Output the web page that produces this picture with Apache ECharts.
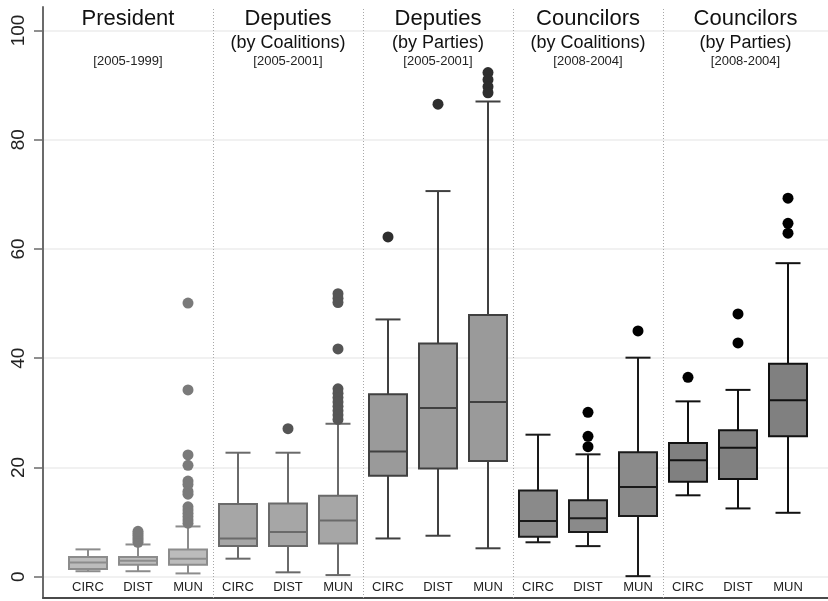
<!DOCTYPE html>
<html>
<head>
<meta charset="utf-8">
<script src="https://cdn.jsdelivr.net/npm/echarts@6/dist/echarts.min.js"></script>
<style>
  html, body { margin: 0; padding: 0; background: #ffffff; }
  #chart { width: 828px; height: 601px; }
</style>
</head>
<body>
<div id="chart"></div>
<script>
// Electoral-unit levels shown within each panel
const levels = ['CIRC', 'DIST', 'MUN'];

// Panel headings
const groupTitles = ['President', 'Deputies', 'Deputies', 'Councilors', 'Councilors'];
const groupSubtitles = ['', '(by Coalitions)', '(by Parties)', '(by Coalitions)', '(by Parties)'];
const groupPeriods = ['[2005-1999]', '[2005-2001]', '[2005-2001]', '[2008-2004]', '[2008-2004]'];

// Box statistics: [lower whisker, Q1, median, Q3, upper whisker]
const presidentStats = [
  [1.0, 1.4, 2.6, 3.6, 5.0],
  [1.0, 2.2, 2.9, 3.6, 5.9],
  [0.6, 2.2, 3.3, 5.0, 9.2]
];
const deputiesCoalStats = [
  [3.3, 5.6, 7.0, 13.3, 22.7],
  [0.8, 5.6, 8.2, 13.4, 22.7],
  [0.3, 6.1, 10.3, 14.8, 28.0]
];
const deputiesPartyStats = [
  [7.0, 18.5, 22.9, 33.4, 47.1],
  [7.5, 19.8, 30.9, 42.7, 70.6],
  [5.2, 21.2, 32.0, 47.9, 87.0]
];
const councilCoalStats = [
  [6.3, 7.3, 10.2, 15.8, 26.0],
  [5.6, 8.2, 10.7, 14.0, 22.4],
  [0.1, 11.1, 16.4, 22.8, 40.1]
];
const councilPartyStats = [
  [14.9, 17.4, 21.3, 24.5, 32.1],
  [12.5, 17.9, 23.6, 26.8, 34.2],
  [11.7, 25.7, 32.3, 39.0, 57.4]
];

// Outside values for each box
const presidentOutliers = [
  [],
  [6.3, 6.7, 7.1, 7.5, 7.9, 8.3],
  [50.1, 34.2, 22.3, 20.4, 17.5, 16.9, 15.6, 15.1, 12.8, 12.2, 11.6, 11.0, 10.4, 9.8]
];
const deputiesCoalOutliers = [
  [],
  [27.1],
  [51.8, 51.0, 50.2, 41.7, 34.4, 33.6, 32.8, 32.0, 31.2, 30.4, 29.6, 28.8]
];
const deputiesPartyOutliers = [
  [62.2],
  [86.5],
  [92.3, 91.0, 89.7, 88.6]
];
const councilCoalOutliers = [
  [],
  [30.1, 25.7, 23.8],
  [45.0]
];
const councilPartyOutliers = [
  [36.5],
  [48.1, 42.8],
  [69.3, 64.7, 62.9]
];

const yTicks = [0, 20, 40, 60, 80, 100];

// Shading per panel: lighter for the earlier panels, darker later
const groupStyles = [
  { fill: '#bcbcbc', line: '#8c8c8c', dot: '#7a7a7a' },
  { fill: '#a6a6a6', line: '#6a6a6a', dot: '#555555' },
  { fill: '#9a9a9a', line: '#404040', dot: '#2e2e2e' },
  { fill: '#8a8a8a', line: '#1a1a1a', dot: '#000000' },
  { fill: '#808080', line: '#111111', dot: '#000000' }
];

const allStats = [].concat(presidentStats, deputiesCoalStats, deputiesPartyStats, councilCoalStats, councilPartyStats);
const allOutliers = [].concat(presidentOutliers, deputiesCoalOutliers, deputiesPartyOutliers, councilCoalOutliers, councilPartyOutliers);

// Boxes sit at x = 1..15, three per panel
const positions = allStats.map((_, i) => i + 1);
const boxData = allStats.map((s, i) => [positions[i]].concat(s));
const dotData = [];
allOutliers.forEach((arr, i) => arr.forEach(v => dotData.push([positions[i], v])));

const xMin = 0.1, xMax = 15.8;
const panelEdges = [xMin, 3.5, 6.5, 9.5, 12.5, xMax];
const groupOf = x => Math.floor((x - 1) / 3);

const fontFamily = '"Liberation Sans", Arial, sans-serif';

function renderBox(params, api) {
  const x = api.value(0);
  const st = groupStyles[groupOf(x)];
  const lo = api.coord([x, api.value(1)]);
  const q1 = api.coord([x, api.value(2)]);
  const med = api.coord([x, api.value(3)]);
  const q3 = api.coord([x, api.value(4)]);
  const hi = api.coord([x, api.value(5)]);
  const cx = lo[0];
  const hw = 19, cw = 12.5;
  const ls = { stroke: st.line, lineWidth: 2, fill: null };
  return {
    type: 'group',
    children: [
      { type: 'line', shape: { x1: cx, y1: hi[1], x2: cx, y2: q3[1] }, style: ls },
      { type: 'line', shape: { x1: cx, y1: q1[1], x2: cx, y2: lo[1] }, style: ls },
      { type: 'line', shape: { x1: cx - cw, y1: hi[1], x2: cx + cw, y2: hi[1] }, style: ls },
      { type: 'line', shape: { x1: cx - cw, y1: lo[1], x2: cx + cw, y2: lo[1] }, style: ls },
      { type: 'rect', shape: { x: cx - hw, y: q3[1], width: 2 * hw, height: q1[1] - q3[1] },
        style: { fill: st.fill, stroke: st.line, lineWidth: 2 } },
      { type: 'line', shape: { x1: cx - hw, y1: med[1], x2: cx + hw, y2: med[1] }, style: ls }
    ]
  };
}

const panelAreas = groupTitles.map((t, k) => [
  { xAxis: panelEdges[k], name: t, groupIndex: k },
  { xAxis: panelEdges[k + 1] }
]);

const chart = echarts.init(document.getElementById('chart'), null, { renderer: 'canvas' });

chart.setOption({
  animation: false,
  backgroundColor: '#ffffff',
  textStyle: { fontFamily: fontFamily },
  grid: { left: 43, right: 0, top: 7, bottom: 3, containLabel: false },
  xAxis: {
    type: 'value',
    min: xMin,
    max: xMax,
    axisLine: { show: true, onZero: false, lineStyle: { color: '#4a4a4a', width: 2 } },
    axisTick: { show: false },
    splitLine: { show: false },
    axisLabel: {
      customValues: positions,
      inside: true,
      margin: 4,
      fontSize: 13,
      color: '#222222',
      fontFamily: fontFamily,
      formatter: v => levels[(Math.round(v) - 1) % 3]
    }
  },
  yAxis: {
    type: 'value',
    min: -3.9,
    max: 104.3,
    axisLine: { show: true, onZero: false, lineStyle: { color: '#6b6b6b', width: 2 } },
    axisTick: { show: true, length: 9, customValues: yTicks, lineStyle: { color: '#6b6b6b', width: 1.5 } },
    axisLabel: {
      customValues: yTicks,
      rotate: 90,
      fontSize: 19,
      color: '#222222',
      margin: 15,
      fontFamily: fontFamily
    },
    splitLine: { show: true, lineStyle: { color: '#ececec', width: 1.5 } }
  },
  series: [
    {
      type: 'custom',
      name: 'boxes',
      renderItem: renderBox,
      encode: { x: 0, y: [1, 2, 3, 4, 5] },
      data: boxData,
      z: 3,
      markLine: {
        silent: true,
        symbol: 'none',
        label: { show: false },
        lineStyle: { color: '#a8a8a8', width: 1, type: [1, 2] },
        data: panelEdges.slice(1, -1).map(v => ({ xAxis: v }))
      },
      markArea: {
        silent: true,
        itemStyle: { color: 'rgba(0,0,0,0)' },
        label: {
          show: true,
          position: 'insideTop',
          distance: 0,
          formatter: p => {
            const idx = p.data && p.data.groupIndex != null ? p.data.groupIndex : groupTitles.indexOf(p.name);
            const sub = groupSubtitles[idx] || ' ';
            return '{t|' + groupTitles[idx] + '}\n{s|' + sub + '}\n{p|' + groupPeriods[idx] + '}';
          },
          rich: {
            t: { fontSize: 22, lineHeight: 24, color: '#111111', fontFamily: fontFamily, align: 'center' },
            s: { fontSize: 18, lineHeight: 24, color: '#111111', fontFamily: fontFamily, align: 'center' },
            p: { fontSize: 13, lineHeight: 12, color: '#222222', fontFamily: fontFamily, align: 'center' }
          }
        },
        data: panelAreas
      }
    },
    {
      type: 'scatter',
      name: 'outside values',
      data: dotData,
      symbol: 'circle',
      symbolSize: 11,
      z: 4,
      itemStyle: {
        color: p => groupStyles[groupOf(p.data[0])].dot,
        opacity: 1
      }
    }
  ]
});
</script>
</body>
</html>
